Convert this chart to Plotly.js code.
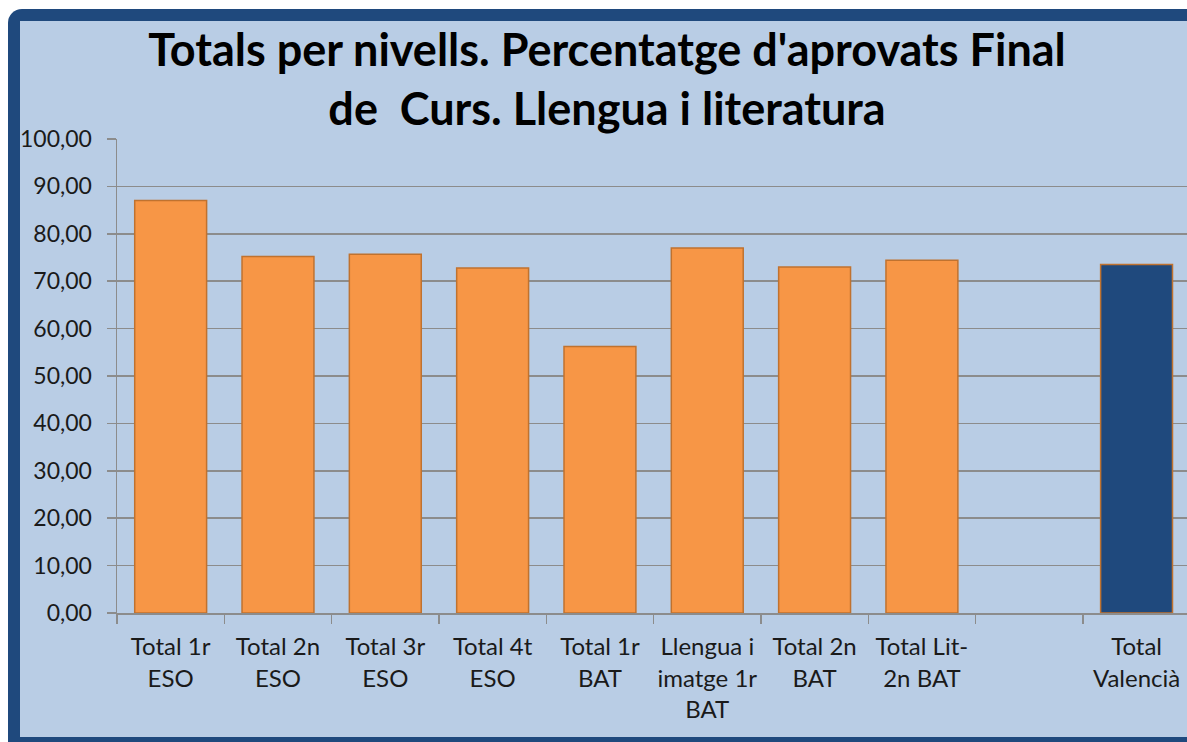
<!DOCTYPE html>
<html>
<head>
<meta charset="utf-8">
<script src="https://cdn.plot.ly/plotly-3.0.1.min.js"></script>
<style>
  html, body { margin:0; padding:0; background:#ffffff; overflow:hidden; width:1187px; height:742px; }
  #frame { position:absolute; left:8px; top:9px; width:1200px; height:733px; background:#1F497D; border-top-left-radius:14px; }
  #chart { position:absolute; left:12px; top:12px; width:1167px; height:716px; }
</style>
</head>
<body>
<div id="frame"><div id="chart"></div></div>
<script>
const categories = [
  "Total 1r<br>ESO",
  "Total 2n<br>ESO",
  "Total 3r<br>ESO",
  "Total 4t<br>ESO",
  "Total 1r<br>BAT",
  "Llengua i<br>imatge 1r<br>BAT",
  "Total 2n<br>BAT",
  "Total Lit-<br>2n BAT",
  " ",
  "Total<br>Valencià"
];
const values = [87.0, 75.2, 75.7, 72.8, 56.2, 77.0, 73.0, 74.4, null, 73.5];
const totalCategory = "Total<br>Valencià";
const yTicks = [0, 10, 20, 30, 40, 50, 60, 70, 80, 90, 100];

const ORANGE = "#F79646", BLUE = "#1F497D", OUTLINE = "#C0722F";
const barColors = categories.map(c => c === totalCategory ? BLUE : ORANGE);

const trace = {
  type: "bar",
  x: categories,
  y: values,
  width: 0.67,
  marker: { color: barColors, line: { color: OUTLINE, width: 1.5 } },
  hoverinfo: "x+y"
};

const FONT = "Lato, 'Open Sans', sans-serif";
const layout = {
  width: 1167, height: 716,
  paper_bgcolor: "#B9CDE5",
  plot_bgcolor: "#B9CDE5",
  margin: { l: 97, r: 0, t: 118, b: 124 },
  showlegend: false,
  separators: ",.",
  title: {
    text: "<b>Totals per nivells. Percentatge d'aprovats Final<br>de  Curs. Llengua i literatura</b>",
    font: { family: FONT, size: 45, color: "#000000" },
    xref: "container", x: 0.503, xanchor: "center",
    yref: "container", y: 0.937, yanchor: "top"
  },
  xaxis: {
    type: "category",
    categoryorder: "array",
    categoryarray: categories,
    range: [-0.5, 9.47],
    tickson: "boundaries",
    ticks: "outside", ticklen: 9, tickwidth: 1.5, tickcolor: "#8C8C8C",
    showline: true, linecolor: "#8C8C8C", linewidth: 1.5,
    showgrid: false,
    tickfont: { family: FONT, size: 24, color: "#1a1a1a" },
    ticklabelstandoff: 12,
    tickangle: 0,
    fixedrange: true
  },
  yaxis: {
    range: [0, 100],
    tickvals: yTicks,
    tickformat: ".2f",
    ticks: "outside", ticklen: 9, tickwidth: 1.5, tickcolor: "#8C8C8C",
    showline: true, linecolor: "#8C8C8C", linewidth: 1.5,
    showgrid: true, gridcolor: "#8C8C8C", gridwidth: 1.5,
    zeroline: false,
    tickfont: { family: FONT, size: 23, color: "#1a1a1a" },
    ticklabelstandoff: 10,
    fixedrange: true
  }
};

Plotly.newPlot("chart", [trace], layout, { displayModeBar: false, staticPlot: true });
</script>
</body>
</html>
